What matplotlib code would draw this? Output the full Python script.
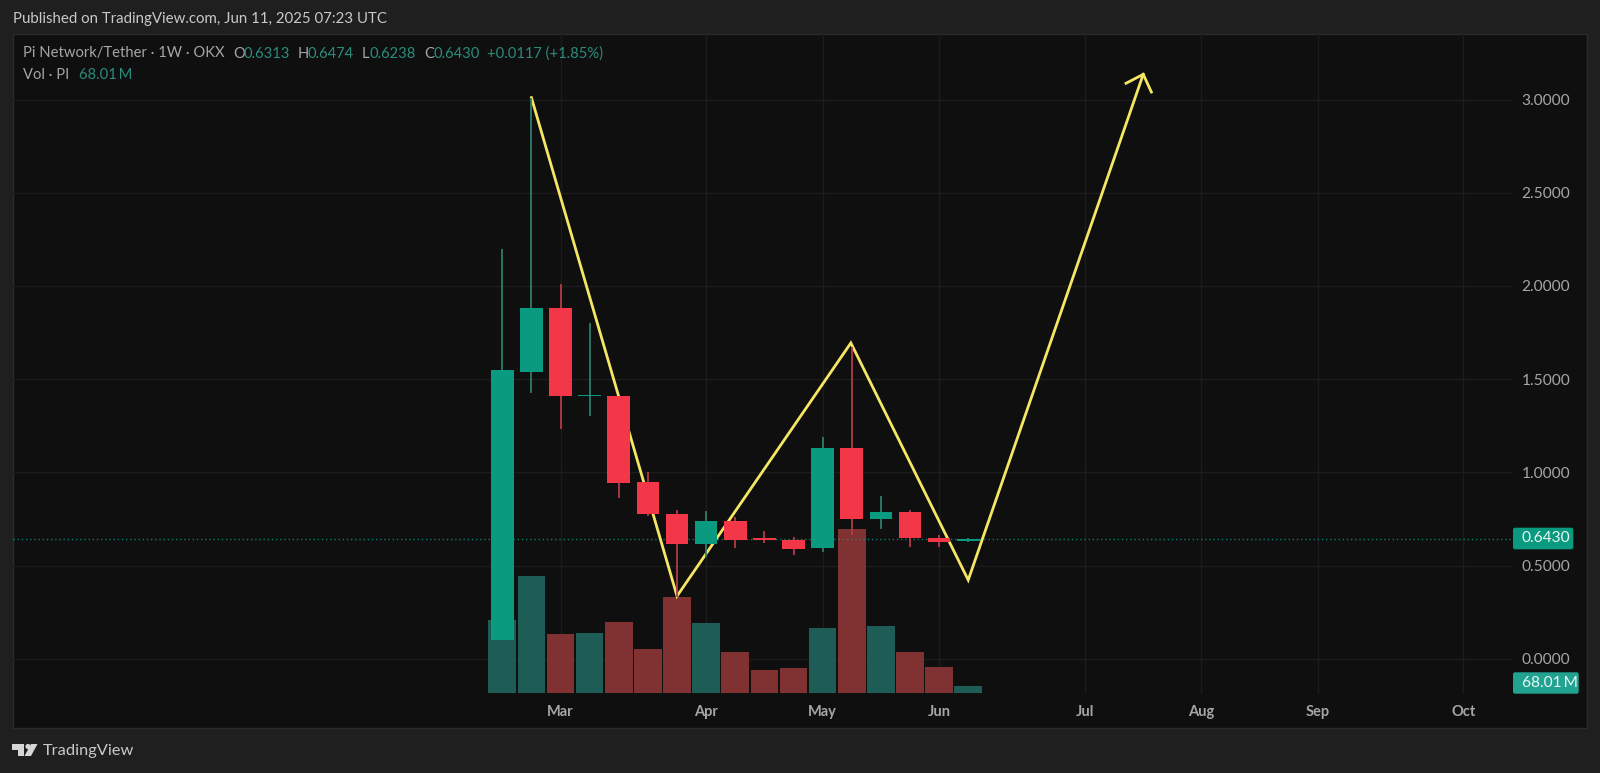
"""
Pi Network/Tether weekly chart, TradingView dark theme
"""
import matplotlib
matplotlib.use('Agg')
import matplotlib.pyplot as plt
from matplotlib.patches import FancyBboxPatch, Polygon, Rectangle

plt.rcParams['font.family'] = ['Lato', 'DejaVu Sans']

# Weekly candles
opens = [0.10, 1.54, 1.88, 1.41, 1.41, 0.946, 0.778, 0.617, 0.74, 0.645, 0.637, 0.592, 1.129, 0.749, 0.787, 0.647, 0.6313]
highs = [2.20, 3.01, 2.01, 1.80, 1.41, 1.003, 0.80, 0.792, 0.758, 0.685, 0.651, 1.191, 1.67, 0.873, 0.798, 0.664, 0.6474]
lows = [0.10, 1.427, 1.232, 1.304, 0.86, 0.765, 0.333, 0.547, 0.592, 0.622, 0.555, 0.574, 0.664, 0.696, 0.601, 0.601, 0.6238]
closes = [1.55, 1.88, 1.41, 1.415, 0.944, 0.775, 0.617, 0.74, 0.637, 0.635, 0.59, 1.129, 0.751, 0.789, 0.646, 0.628, 0.6430]
volumes = [683, 1085, 552, 562, 657, 409, 893, 655, 385, 214, 230, 602, 1525, 626, 384, 239, 68.01]
vol_up = [True, True, False, True, False, False, False, True, False, False, False, True, False, True, False, False, True]

# Drawn projection (yellow)
path_x = [1.0, 6.0, 11.97, 16.0, 22.01]
path_y = [3.01, 0.336, 1.694, 0.422, 3.135]
head_x = [21.42, 22.01, 22.29]
head_y = [3.087, 3.135, 3.04]

price_ticks = [0.0, 0.5, 1.0, 1.5, 2.0, 2.5, 3.0]
month_pos = [2, 7, 11, 15, 20, 24, 28, 33]
month_labels = ['Mar', 'Apr', 'May', 'Jun', 'Jul', 'Aug', 'Sep', 'Oct']
last_price = 0.6430

W, H = 1600, 773
BG_OUT = '#1f1f1f'
BG = '#0f0f0f'
GRID = '#1c1c1c'
TEAL = '#0a9a80'
RED = '#f43649'
TEAL_WICK = '#2f7b6c'
RED_WICK = '#b23c48'
TEAL_VOL = '#1e5d55'
RED_VOL = '#803232'
YELLOW = '#f5e663'
TXT = '#a6a6a6'
TXT_TEAL = '#2a8d7c'


def fx(px):
    return px / W


def fy(px):
    return 1 - px / H


def fig_text(x, y, s, color=TXT, size=10.6, **kw):
    fig.text(fx(x), fy(y), s, color=color, fontsize=size, va='center', **kw)


def badge(x0, y0, x1, y1, color, s):
    box = FancyBboxPatch((x0, H - y1), x1 - x0, y1 - y0,
                         boxstyle='round,pad=0,rounding_size=2',
                         transform=None, facecolor=color, edgecolor='none', zorder=5)
    fig.add_artist(box)
    fig.text(fx(x0 + 8.5), fy((y0 + y1) / 2), s, color='#e8f5f2', fontsize=11.2,
             va='center', zorder=6)


fig = plt.figure(figsize=(W / 100, H / 100), dpi=100, facecolor=BG_OUT)
fig.add_artist(Rectangle((13, H - 728), 1574, 694, transform=None,
                         facecolor=BG, edgecolor='#2b2b2b', linewidth=1, zorder=-5))

# Grid and labels: 186.4 px per unit, index 0 sits at x=502.3, 29.12 px per week
ax = fig.add_axes([fx(13), fy(694), fx(1499), fy(34) - fy(694)])
ax.patch.set_alpha(0)
ax.set_xlim((13 - 502.3) / 29.12, (1512 - 502.3) / 29.12)
price_lim = ((658.7 - 694) / 186.4, (658.7 - 34) / 186.4)
ax.set_ylim(price_lim)

# Volume overlay above the grid
ax_vol = ax.twinx()
ax_vol.set_ylim(-1 * 9.3, 659 * 9.3)
ax_vol.set_yticks([])
for i, v in enumerate(volumes):
    ax_vol.bar(i, v, width=0.95, color=TEAL_VOL if vol_up[i] else RED_VOL, linewidth=0)

# Candles and drawing on top
ax_top = ax.twinx()
ax_top.set_ylim(price_lim)
ax_top.set_yticks([])

ax.yaxis.tick_right()
ax.set_yticks(price_ticks)
ax.set_yticklabels([f'{p:.4f}' for p in price_ticks], color=TXT, fontsize=11.2)
ax.set_xticks(month_pos)
ax.set_xticklabels(month_labels, color=TXT, fontsize=10.5, fontweight='bold')
ax.tick_params(axis='y', length=0, pad=7)
ax.tick_params(axis='x', length=0, pad=8)
ax.grid(True, color=GRID, linewidth=1)
ax.set_axisbelow(True)

for a in (ax, ax_vol, ax_top):
    for s in a.spines.values():
        s.set_visible(False)

ax_top.axhline(last_price, color=TEAL, linewidth=1, linestyle=(0, (1, 2)), alpha=0.8, zorder=2)
ax_top.plot(path_x, path_y, color=YELLOW, linewidth=2.0, solid_joinstyle='miter', zorder=3)
ax_top.plot(head_x, head_y, color=YELLOW, linewidth=2.0, solid_joinstyle='miter', zorder=3)

for i in range(len(opens)):
    up = closes[i] >= opens[i]
    ax_top.vlines(i, lows[i], highs[i], color=TEAL_WICK if up else RED_WICK, linewidth=1.3, zorder=4)
    bottom = min(opens[i], closes[i])
    height = max(abs(closes[i] - opens[i]), 0.006)
    ax_top.bar(i, height, bottom=bottom, width=0.78, color=TEAL if up else RED, linewidth=0, zorder=5)

# Header and legend
fig_text(13, 18.5, 'Published on TradingView.com, Jun 11, 2025 07:23 UTC', color='#c9c9c9', size=10.8)
fig_text(23, 53.5, 'Pi Network/Tether · 1W · OKX')
for x, s, c in [(233, 'O', TXT), (243, '0.6313', TXT_TEAL), (298, 'H', TXT), (308, '0.6474', TXT_TEAL),
                (362, 'L', TXT), (369, '0.6238', TXT_TEAL), (424, 'C', TXT), (433, '0.6430', TXT_TEAL),
                (487, '+0.0117 (+1.85%)', TXT_TEAL)]:
    fig_text(x, 53.5, s, color=c)
fig_text(23, 75, 'Vol · PI')
fig_text(79, 75, '68.01\u2009M', color=TXT_TEAL)

badge(1513, 527.7, 1573.3, 549.3, TEAL, '0.6430')
badge(1513, 672.3, 1578.7, 693.7, '#22a392', '68.01\u2009M')

# TradingView logo
logo = [[(12, 744), (24, 744), (24, 756), (18, 756), (18, 750), (12, 750)],
        [(31, 744), (37.5, 744), (31, 756), (24.5, 756)]]
for pts in logo:
    fig.add_artist(Polygon([(x, H - y) for x, y in pts], closed=True, transform=None,
                           facecolor='#d6d6d6', edgecolor='none'))
fig.add_artist(plt.Circle((28, H - 746.5), 2.6, transform=None, facecolor='#d6d6d6', edgecolor='none'))
fig_text(43, 751, 'TradingView', color='#c9c9c9', size=11.8)

fig.savefig('out.png', dpi=100, facecolor=fig.get_facecolor())
